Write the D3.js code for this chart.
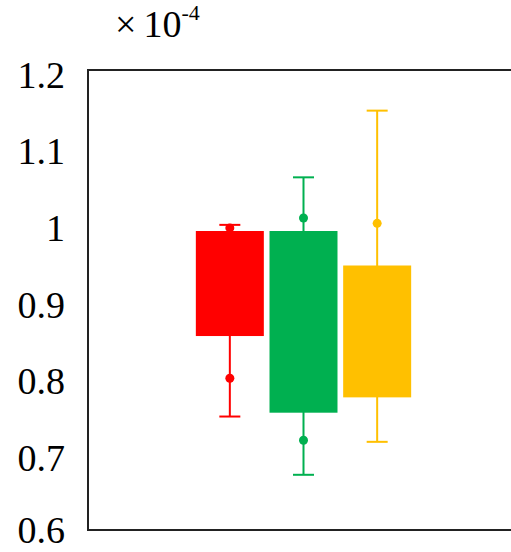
<!DOCTYPE html>
<html>
<head>
<meta charset="utf-8">
<script src="https://cdn.jsdelivr.net/npm/d3@7"></script>
<style>
  body { margin: 0; background: #fff; overflow: hidden; }
  text { font-family: "Liberation Serif", "Times New Roman", serif; fill: #000; }
</style>
</head>
<body>
<div id="chart"></div>
<script>
// values are in units of 1e-4
var groups = ["G1", "G2", "G3"];
var colors = ["#ff0000", "#00b050", "#ffc000"];
var whiskerHigh = [0.998, 1.060, 1.147];
var boxTop = [0.990, 0.990, 0.945];
var boxBottom = [0.853, 0.753, 0.773];
var whiskerLow = [0.748, 0.672, 0.715];
var pointsA = [0.994, 1.007, 1.000];
var pointsB = [0.798, 0.717, null];
var yTicks = [0.6, 0.7, 0.8, 0.9, 1, 1.1, 1.2];

var width = 511, height = 552;
var frame = { left: 88, top: 70, right: 545, bottom: 530 };

var svg = d3.select("#chart").append("svg")
    .attr("width", width)
    .attr("height", height);

var y = d3.scaleLinear()
    .domain([0.6, 1.2])
    .range([frame.bottom, frame.top]);

var x = d3.scaleBand()
    .domain(groups)
    .range([193, 414])
    .paddingInner(0.077)
    .paddingOuter(0.0385);

var data = groups.map(function(g, i){
    return { name: g, color: colors[i], hi: whiskerHigh[i], q3: boxTop[i],
             q1: boxBottom[i], lo: whiskerLow[i], pa: pointsA[i], pb: pointsB[i] };
});

// frame
svg.append("rect")
    .attr("x", frame.left)
    .attr("y", frame.top)
    .attr("width", frame.right - frame.left)
    .attr("height", frame.bottom - frame.top)
    .attr("fill", "none")
    .attr("stroke", "#222")
    .attr("stroke-width", 2);

// y labels
var yAxis = d3.axisLeft(y)
    .tickValues(yTicks)
    .tickSize(0)
    .tickPadding(23)
    .tickFormat(function(d){ return d3.format("")(+d.toFixed(1)); });

var gy = svg.append("g")
    .attr("transform", "translate(" + frame.left + ",0)")
    .call(yAxis);
gy.select(".domain").remove();
gy.selectAll("text")
    .attr("font-size", "38px")
    .attr("dy", function(d){ return d < 0.65 ? "0.33em" : "0.45em"; })
    .attr("fill", "#000");

// exponent label
var expo = svg.append("text")
    .attr("x", 115)
    .attr("y", 37)
    .attr("font-size", "38px");
expo.append("tspan").text("×");
expo.append("tspan").attr("dx", 7).text("10");
expo.append("tspan")
    .attr("font-size", "22px")
    .attr("dy", "-17")
    .text("-4");

var cx = function(d){ return x(d.name) + x.bandwidth() / 2; };
var capW = 21;

var grp = svg.selectAll(".box")
    .data(data)
    .enter().append("g")
    .attr("class", "box");

// whisker line
grp.append("line")
    .attr("x1", cx).attr("x2", cx)
    .attr("y1", function(d){ return y(d.hi); })
    .attr("y2", function(d){ return y(d.lo); })
    .attr("stroke", function(d){ return d.color; })
    .attr("stroke-width", 2);

// caps
grp.append("line")
    .attr("x1", function(d){ return cx(d) - capW / 2; })
    .attr("x2", function(d){ return cx(d) + capW / 2; })
    .attr("y1", function(d){ return y(d.hi); })
    .attr("y2", function(d){ return y(d.hi); })
    .attr("stroke", function(d){ return d.color; })
    .attr("stroke-width", 2);
grp.append("line")
    .attr("x1", function(d){ return cx(d) - capW / 2; })
    .attr("x2", function(d){ return cx(d) + capW / 2; })
    .attr("y1", function(d){ return y(d.lo); })
    .attr("y2", function(d){ return y(d.lo); })
    .attr("stroke", function(d){ return d.color; })
    .attr("stroke-width", 2);

// points
grp.filter(function(d){ return d.pa != null; }).append("circle")
    .attr("cx", cx)
    .attr("cy", function(d){ return y(d.pa); })
    .attr("r", 4.5)
    .attr("fill", function(d){ return d.color; });
grp.filter(function(d){ return d.pb != null; }).append("circle")
    .attr("cx", cx)
    .attr("cy", function(d){ return y(d.pb); })
    .attr("r", 4.5)
    .attr("fill", function(d){ return d.color; });

// boxes
grp.append("rect")
    .attr("x", function(d){ return x(d.name); })
    .attr("width", x.bandwidth())
    .attr("y", function(d){ return y(d.q3); })
    .attr("height", function(d){ return y(d.q1) - y(d.q3); })
    .attr("fill", function(d){ return d.color; });
</script>
</body>
</html>
